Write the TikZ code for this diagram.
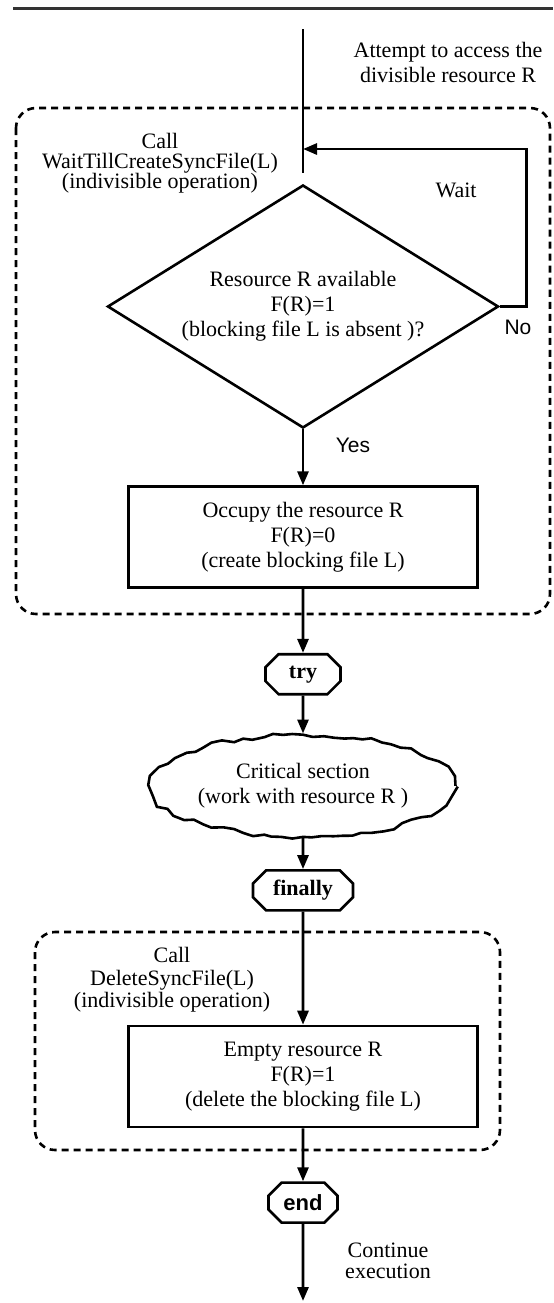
\documentclass[tikz,border=0pt]{standalone}
\usepackage{fontspec}
\setmainfont{Liberation Serif}
\setsansfont{Liberation Sans}
\usetikzlibrary{positioning, arrows.meta, shapes.geometric, shapes.misc, decorations.pathmorphing}
\newcommand{\basefont}{\fontsize{11pt}{12.5pt}\selectfont}
\newcommand{\tightfont}{\fontsize{11pt}{10pt}\selectfont\lineskiplimit=-10pt\relax}
\tikzset{>={Triangle[length=7pt, width=5.5pt]},
  every node/.style={font=\basefont, align=center},
  line/.style={line width=1.4pt},
  block/.style={draw, line width=1.3pt, minimum width=174.5pt, minimum height=50.5pt, inner sep=0pt},
  decision/.style={draw, diamond, aspect=1.61, line width=1.3pt, minimum width=195.5pt, minimum height=121.5pt, inner sep=0pt},
  keyword/.style={draw, chamfered rectangle, chamfered rectangle xsep=3.5pt, line width=1.3pt, minimum height=20pt, inner sep=0pt, font=\basefont\bfseries},
  crit/.style={draw, ellipse, line width=1.3pt, minimum width=152.5pt, minimum height=51pt, inner sep=0pt, decorate, decoration={random steps, segment length=5pt, amplitude=1.2pt}},
  group/.style={draw, line width=1.3pt, dash pattern=on 3.5pt off 2.5pt, rounded corners=10pt},
  answer/.style={font=\fontsize{10.5pt}{12pt}\selectfont\sffamily}
}

\begin{document}
\pgfmathsetseed{7}
\begin{tikzpicture}[x=0.5pt, y=-0.5pt]
\useasboundingbox (0,0) rectangle (553,1303);
\draw[line width=1.5pt, black!80] (13,8) -- (553,8);
\draw[group] (16,108) rectangle (550,614);
\draw[group] (35,932) rectangle (500,1150);

\node[decision] (avail) at (303,306.5) {Resource R available\\F(R)=1\\(blocking file L is absent )?};
\node[block, below=28pt of avail] (occupy) {Occupy the resource R\\F(R)=0\\(create blocking file L)};
\node[keyword, minimum width=37.5pt, below=32pt of occupy] (try) {try};
\node[crit, below=19pt of try] (critical) {Critical section\\(work with resource R )};
\node[keyword, minimum width=50pt, below=15.5pt of critical] (finally) {finally};
\node[block, below=56.5pt of finally] (empty) {Empty resource R\\F(R)=1\\(delete the blocking file L)};
\node[keyword, minimum width=34.5pt, below=26.5pt of empty, font=\basefont\sffamily\bfseries] (end) {end};

\coordinate (start) at (303,29);
\coordinate (merge) at (303,149);
\coordinate (exit) at (303,1301);

\node (attempt) at (448,62) {Attempt to access the\\divisible resource R};
\node[font=\tightfont] (callwait) at (160,163) {Call\\WaitTillCreateSyncFile(L)\\(indivisible operation)};
\node (wait) at (456,190) {Wait};
\node[answer] (no) at (518,327) {No};
\node[answer] (yes) at (353,445) {Yes};
\node[font=\fontsize{11pt}{11.3pt}\selectfont] (calldelete) at (172,980) {Call\\DeleteSyncFile(L)\\(indivisible operation)};
\node[font=\fontsize{11pt}{10.5pt}\selectfont] (continue) at (388,1261) {Continue\\execution};

\draw[line, shorten >=5.5pt] (start) -- (avail.north);
\draw[line, ->] (avail.east) -- ++(27,0) |- (merge);
\draw[line, ->] (avail) -- (occupy);
\draw[line, ->] (occupy) -- (try);
\draw[line, ->] (try) -- (critical);
\draw[line, ->] (critical) -- (finally);
\draw[line, ->] (finally) -- (empty);
\draw[line, ->] (empty) -- (end);
\draw[line, ->] (end) -- (exit);
\end{tikzpicture}
\end{document}
